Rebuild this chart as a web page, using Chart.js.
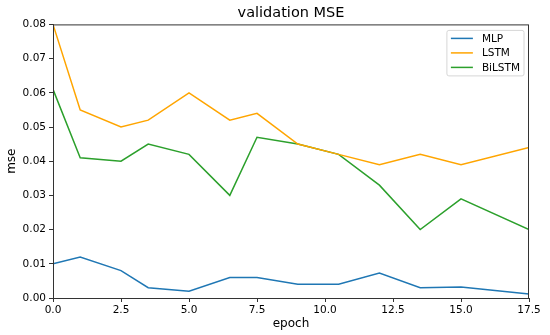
<!DOCTYPE html>
<html>
<head>
<meta charset="utf-8">
<script src="https://cdn.jsdelivr.net/npm/chart.js@4/dist/chart.umd.min.js"></script>
<style>
  html, body { margin: 0; padding: 0; background: #fff; }
  #wrap { width: 550px; height: 335px; }
</style>
</head>
<body>
<div id="wrap"><canvas id="mseChart" width="550" height="335"></canvas></div>
<script>
(function () {
  "use strict";

  /* ===== Data ===== */
  var EPOCHS = [0, 1, 2.5, 3.5, 5, 6.5, 7.5, 9, 10.5, 12, 13.5, 15, 17.5];
  var MLP    = [0.010, 0.012, 0.008, 0.003, 0.002, 0.006, 0.006, 0.004, 0.004, 0.0073, 0.003, 0.0032, 0.0012];
  var LSTM   = [0.080, 0.055, 0.050, 0.052, 0.060, 0.052, 0.054, 0.045, 0.042, 0.039, 0.042, 0.039, 0.044];
  var BILSTM = [0.061, 0.041, 0.040, 0.045, 0.042, 0.030, 0.047, 0.045, 0.042, 0.033, 0.020, 0.029, 0.020];
  var SERIES_NAMES = ["MLP", "LSTM", "BiLSTM"];

  /* ===== Styles (matplotlib-ish) ===== */
  var COLOR_MLP = "#1f77b4";
  var COLOR_LSTM = "#ffa500";
  var COLOR_BILSTM = "#2ca02c";
  var FONT = "'DejaVu Sans', sans-serif";
  var TICK_FONT_SIZE = 10.5;
  var LABEL_FONT_SIZE = 12;
  var SPINE = "#333";

  function toPoints(ys) {
    return EPOCHS.map(function (x, i) { return { x: x, y: ys[i] }; });
  }

  function lineSet(label, ys, color) {
    return {
      label: label,
      data: toPoints(ys),
      borderColor: color,
      backgroundColor: color,
      borderWidth: 1.5,
      pointRadius: 0,
      tension: 0,
      fill: false,
    };
  }

  /* frame round the plot + matplotlib style legend box */
  var framePlugin = {
    id: "frame",
    afterDatasetsDraw: function (chart) {
      var a = chart.chartArea;
      var c = chart.ctx;
      c.save();
      c.strokeStyle = SPINE;
      c.lineWidth = 1;
      c.strokeRect(a.left + 0.5, a.top + 0.5, a.right - a.left - 1, a.bottom - a.top);

      // legend
      c.font = TICK_FONT_SIZE + "px " + FONT;
      var maxW = 0;
      chart.data.datasets.forEach(function (ds) {
        maxW = Math.max(maxW, c.measureText(ds.label).width);
      });
      var rowH = 14.5;
      var boxW = 4 + 22 + 9 + maxW + 4;
      var boxH = rowH * chart.data.datasets.length + 2;
      var bx = a.right - 5 - boxW;
      var by = a.top + 6;
      var r = 2;
      c.beginPath();
      c.moveTo(bx + r, by);
      c.arcTo(bx + boxW, by, bx + boxW, by + boxH, r);
      c.arcTo(bx + boxW, by + boxH, bx, by + boxH, r);
      c.arcTo(bx, by + boxH, bx, by, r);
      c.arcTo(bx, by, bx + boxW, by, r);
      c.closePath();
      c.fillStyle = "rgba(255,255,255,0.85)";
      c.fill();
      c.strokeStyle = "#d6d6d6";
      c.stroke();

      chart.data.datasets.forEach(function (ds, i) {
        var cy = by + 8 + i * rowH;
        c.strokeStyle = ds.borderColor;
        c.lineWidth = 1.5;
        c.beginPath();
        c.moveTo(bx + 4, cy);
        c.lineTo(bx + 26, cy);
        c.stroke();
        c.fillStyle = "#000";
        c.textBaseline = "middle";
        c.textAlign = "left";
        c.fillText(ds.label, bx + 35, cy + 0.5);
      });
      c.restore();
    },
  };

  new Chart(document.getElementById("mseChart").getContext("2d"), {
    type: "line",
    data: {
      datasets: [
        lineSet(SERIES_NAMES[0], MLP, COLOR_MLP),
        lineSet(SERIES_NAMES[1], LSTM, COLOR_LSTM),
        lineSet(SERIES_NAMES[2], BILSTM, COLOR_BILSTM),
      ],
    },
    options: {
      responsive: false,
      animation: false,
      layout: { padding: { top: 0, right: 21, bottom: 0, left: 0 } },
      plugins: {
        legend: { display: false },
        tooltip: { enabled: false },
        title: {
          display: true,
          text: "validation MSE",
          fullSize: false,
          color: "#000",
          font: { family: FONT, size: 14.5, weight: "normal" },
          padding: { top: 5, bottom: 2 },
        },
      },
      scales: {
        x: {
          type: "linear",
          min: 0,
          max: 17.5,
          afterFit: function (s) { s.height = 37; },
          border: { display: true, color: SPINE, width: 1 },
          grid: { drawOnChartArea: false, drawTicks: true, tickLength: 4, color: SPINE },
          ticks: {
            stepSize: 2.5,
            padding: 2,
            color: "#000",
            font: { family: FONT, size: TICK_FONT_SIZE },
            callback: function (v) { return Number(v).toFixed(1); },
          },
          title: {
            display: true,
            text: "epoch",
            color: "#000",
            font: { family: FONT, size: LABEL_FONT_SIZE },
            padding: { top: 0, bottom: 4 },
          },
        },
        y: {
          min: 0,
          max: 0.08,
          afterFit: function (s) { s.width = 53; },
          border: { display: true, color: SPINE, width: 1 },
          grid: { drawOnChartArea: false, drawTicks: true, tickLength: 4, color: SPINE },
          ticks: {
            stepSize: 0.01,
            padding: 3,
            color: "#000",
            font: { family: FONT, size: TICK_FONT_SIZE },
            callback: function (v) { return Number(v).toFixed(2); },
          },
          title: {
            display: true,
            text: "mse",
            color: "#000",
            font: { family: FONT, size: LABEL_FONT_SIZE },
            padding: { top: 5, bottom: 0 },
          },
        },
      },
    },
    plugins: [framePlugin],
  });
})();
</script>
</body>
</html>
